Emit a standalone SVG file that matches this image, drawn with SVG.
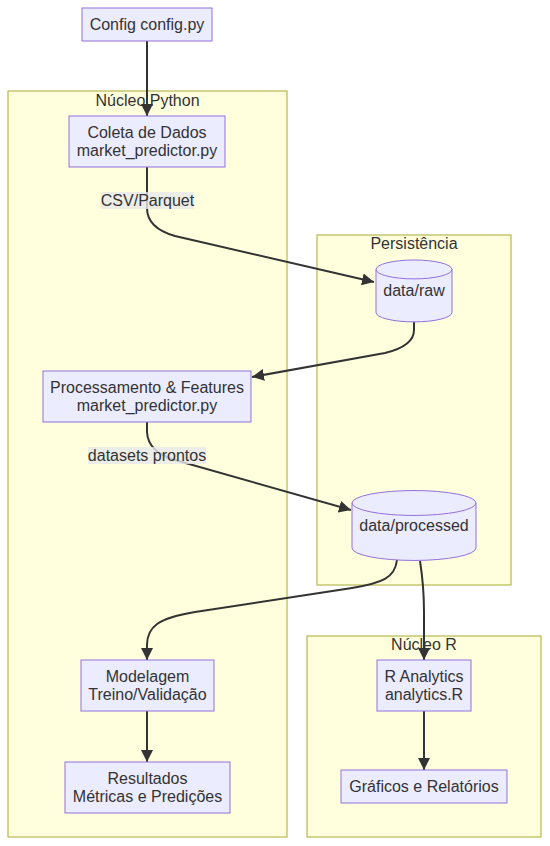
<svg xmlns="http://www.w3.org/2000/svg" width="550" height="846" viewBox="0 0 550 846">
<defs>
<style>
.cluster rect{fill:#ffffde;stroke:#aaaa33;stroke-width:1}
.node rect,.node path{fill:#ECECFF;stroke:#9370DB;stroke-width:1}
text{font-family:"Liberation Sans",Arial,sans-serif;font-size:16px;fill:#333333;text-anchor:middle}
.edge{fill:none;stroke:#333333;stroke-width:2}
.lbl{fill:#e8e8e8;fill-opacity:0.8;stroke:none}
</style>
<marker id="arrow" viewBox="0 0 10 10" refX="10" refY="5" markerUnits="userSpaceOnUse" markerWidth="12" markerHeight="12" orient="auto">
<path d="M0,0 L10,5 L0,10 z" fill="#333333"/>
</marker>
</defs>
<rect width="550" height="846" fill="#ffffff"/>
<g id="clusters" class="cluster">
<g id="cluster-python"><rect x="8" y="91" width="279" height="746"/><text x="147.5" y="105.5">Núcleo Python</text></g>
<g id="cluster-persist"><rect x="317" y="235" width="194" height="350"/><text x="414" y="248.5">Persistência</text></g>
<g id="cluster-r"><rect x="307" y="636" width="234" height="201"/><text x="424" y="649.5">Núcleo R</text></g>
</g>
<g id="connectors">
<path class="edge" d="M147,41 L147,116" marker-end="url(#arrow)"/>
<path class="edge" d="M147,167 L147,208 Q147,228 175,236 L374,282" marker-end="url(#arrow)"/>
<path class="edge" d="M414,322 L414,330 Q414,346 385,353 L252,377" marker-end="url(#arrow)"/>
<path class="edge" d="M147,422 L147,432 Q148,452 175,460 L351,510" marker-end="url(#arrow)"/>
<path class="edge" d="M397,560 C395,578 382,583 352,588 L195,612 C158,618 147,627 147,645 L147,660" marker-end="url(#arrow)"/>
<path class="edge" d="M420,561 C423,580 424,592 424,612 L424,660" marker-end="url(#arrow)"/>
<path class="edge" d="M147,711 L147,762" marker-end="url(#arrow)"/>
<path class="edge" d="M424,711 L424,770" marker-end="url(#arrow)"/>
<g id="edge-labels">
<rect class="lbl" x="101" y="192" width="93" height="17"/><text x="147.5" y="206">CSV/Parquet</text>
<rect class="lbl" x="88" y="447" width="118" height="17"/><text x="147" y="461">datasets prontos</text>
</g>
</g>
<g id="config" class="node"><rect x="82" y="8" width="130" height="33"/><text x="147" y="30">Config config.py</text></g>
<g id="coleta" class="node"><rect x="69" y="116" width="156" height="51"/><text x="147" y="137.5">Coleta de Dados</text><text x="147" y="155.5">market_predictor.py</text></g>
<g id="raw" class="node"><path d="M376,269.45 a38,9.45 0 0,0 76,0 a38,9.45 0 0,0 -76,0 l0,43 a38,9.45 0 0,0 76,0 l0,-43"/><text x="414" y="296">data/raw</text></g>
<g id="proc" class="node"><rect x="43" y="371" width="208" height="51"/><text x="147" y="393">Processamento &amp; Features</text><text x="147" y="411">market_predictor.py</text></g>
<g id="processed" class="node"><path d="M352,503 a62,12.45 0 0,0 124,0 a62,12.45 0 0,0 -124,0 l0,45 a62,12.45 0 0,0 124,0 l0,-45"/><text x="414" y="531">data/processed</text></g>
<g id="modelagem" class="node"><rect x="81" y="660" width="133" height="51"/><text x="147.5" y="682">Modelagem</text><text x="147.5" y="700">Treino/Validação</text></g>
<g id="resultados" class="node"><rect x="65" y="762" width="165" height="51"/><text x="147.5" y="784">Resultados</text><text x="147.5" y="802">Métricas e Predições</text></g>
<g id="ranalytics" class="node"><rect x="377" y="660" width="94" height="51"/><text x="424" y="682">R Analytics</text><text x="424" y="700">analytics.R</text></g>
<g id="graficos" class="node"><rect x="341" y="770" width="166" height="33"/><text x="424" y="792">Gráficos e Relatórios</text></g>
</svg>
